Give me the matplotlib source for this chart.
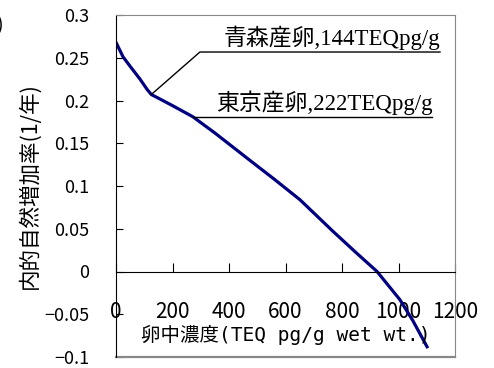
import matplotlib.pyplot as plt
import numpy as np

plt.rcParams['font.family'] = ['Noto Sans CJK JP', 'DejaVu Sans']

# curve
conc = [0, 25, 50, 85, 110, 125, 160, 200, 272, 350, 474, 560, 651, 768, 850, 924, 1005, 1050, 1101]
rate = [0.268, 0.251, 0.240, 0.225, 0.213, 0.207, 0.201, 0.194, 0.181, 0.162, 0.130,
        0.108, 0.084, 0.047, 0.022, 0.0, -0.033, -0.057, -0.088]

yticks = [-0.1, -0.05, 0, 0.05, 0.1, 0.15, 0.2, 0.25, 0.3]
ylabels = ['\u22120.1', '\u22120.05', '0', '0.05', '0.1', '0.15', '0.2', '0.25', '0.3']
xticks = [0, 200, 400, 600, 800, 1000, 1200]

note1 = '青森産卵,144TEQpg/g'
note2 = '東京産卵,222TEQpg/g'

fig = plt.figure(figsize=(4.94, 3.68), dpi=100)
ax = fig.add_axes([116/494, 1-357/368, 339/494, 342/368])

ax.plot(conc, rate, color='#000080', lw=2.3, solid_joinstyle='round')

ax.set_xlim(0, 1200)
ax.set_ylim(-0.1, 0.3)

# frame
for s in ['top', 'right']:
    ax.spines[s].set_color('#888888')
ax.spines['left'].set_color('black')
ax.spines['bottom'].set_position(('data', 0))
ax.spines['bottom'].set_color('black')
ax.axhline(-0.1, color='#888888', lw=1.6, clip_on=False)

ax.set_yticks(yticks)
ax.set_yticklabels(ylabels)
ax.set_xticks(xticks)
ax.set_xticklabels([str(v) for v in xticks])
ax.tick_params(axis='y', direction='in', length=5, pad=19, labelsize=13)
ax.tick_params(axis='x', direction='in', length=6.5, pad=21, labelsize=15)

ax.set_ylabel('内的自然増加率(1/年)', fontsize=15.5, labelpad=3)
ax.text(600, -0.0745, '卵中濃度(TEQ pg/g wet wt.)', ha='center', va='center', fontsize=14,
        family=['DejaVu Sans Mono', 'Noto Sans CJK JP'])

# leader lines and notes
serif = ['Liberation Serif', 'Noto Sans CJK JP']
ax.plot([125, 297, 1147], [0.207, 0.2567, 0.2567], color='black', lw=1)
ax.text(1147, 0.2585, note1, ha='right', va='bottom', fontsize=16.5, family=serif)
ax.plot([272, 1119], [0.181, 0.181], color='black', lw=1)
ax.text(1119, 0.1828, note2, ha='right', va='bottom', fontsize=16.5, family=serif)

fig.text(-0.008, 0.93, ')', fontsize=14, ha='left', va='center')

fig.savefig('out.png', dpi=100)
